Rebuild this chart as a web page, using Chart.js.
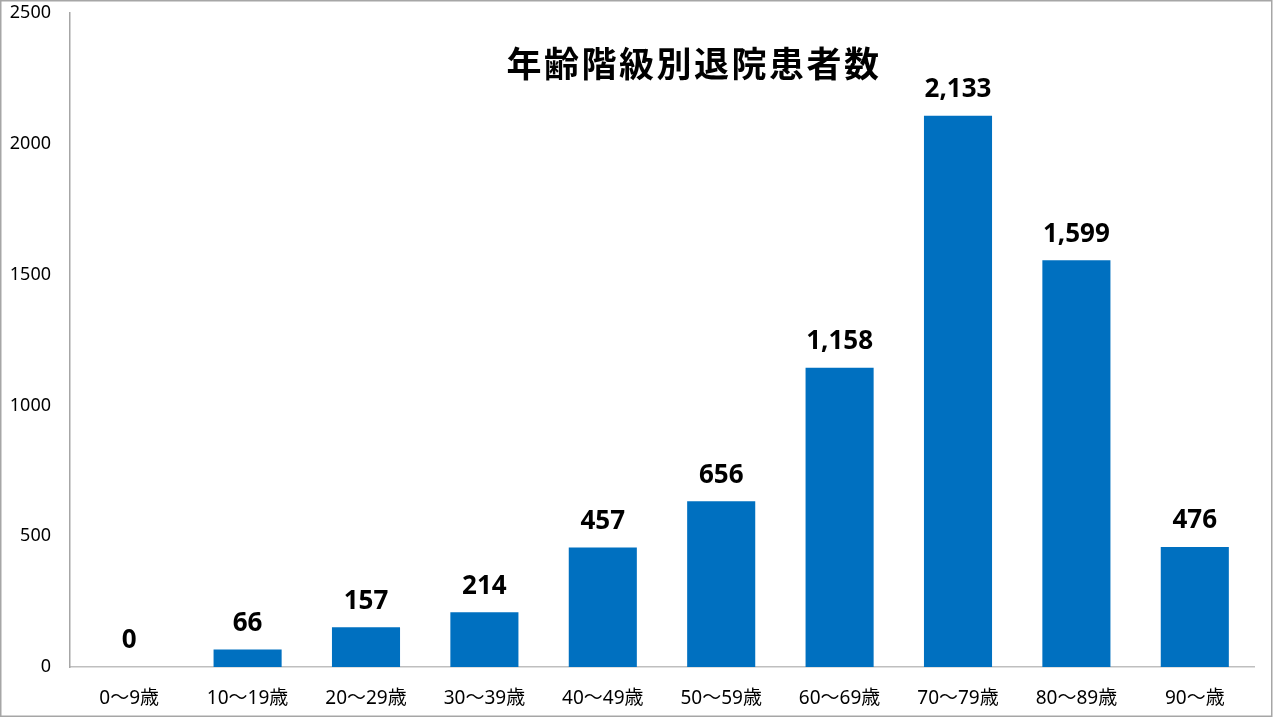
<!DOCTYPE html>
<html>
<head>
<meta charset="utf-8">
<script src="https://cdn.jsdelivr.net/npm/chart.js@4/dist/chart.umd.min.js"></script>
<style>
  html, body { margin: 0; padding: 0; background: #ffffff; }
  #wrap { width: 1275px; height: 718px; position: relative; }
</style>
</head>
<body>
<div id="wrap"><canvas id="c" width="1275" height="718"></canvas></div>
<script>
// ---- data ----
const chartTitle = '年齢階級別退院患者数';
const categories = ['0～9歳', '10～19歳', '20～29歳', '30～39歳', '40～49歳', '50～59歳', '60～69歳', '70～79歳', '80～89歳', '90～歳'];
// bar heights as drawn in the picture
const barValues = [0, 67, 152, 209, 457, 634, 1144, 2107, 1555, 459];
// data labels as printed above the bars
const labelTexts = ['0', '66', '157', '214', '457', '656', '1,158', '2,133', '1,599', '476'];
const yTicks = [0, 500, 1000, 1500, 2000, 2500];

const FONT = "'Noto Sans', 'Noto Sans CJK JP', sans-serif";

const decorPlugin = {
  id: 'decor',
  beforeDraw(chart) {
    const ctx = chart.ctx;
    ctx.save();
    ctx.fillStyle = '#ffffff';
    ctx.fillRect(0, 0, chart.width, chart.height);
    ctx.restore();
  },
  afterDatasetsDraw(chart) {
    const ctx = chart.ctx;
    const meta = chart.getDatasetMeta(0);
    ctx.save();
    ctx.fillStyle = '#000000';
    ctx.font = "bold 26px " + FONT;
    ctx.textAlign = 'center';
    ctx.textBaseline = 'middle';
    meta.data.forEach((bar, i) => {
      ctx.fillText(labelTexts[i], bar.x, bar.y - 26);
    });
    ctx.restore();
  },
  afterDraw(chart) {
    const ctx = chart.ctx;
    ctx.save();
    // title
    ctx.fillStyle = '#000000';
    ctx.font = "bold 35px 'Noto Sans CJK JP', 'Noto Sans', sans-serif";
    ctx.textAlign = 'center';
    ctx.textBaseline = 'middle';
    try { ctx.letterSpacing = '2.5px'; } catch (e) {}
    ctx.fillText(chartTitle, 694, 64);
    try { ctx.letterSpacing = '0px'; } catch (e) {}
    // outer frame
    ctx.strokeStyle = '#a6a6a6';
    ctx.lineWidth = 1.5;
    ctx.strokeRect(0.75, 0.75, 1271, 715.5);
    ctx.restore();
  }
};

new Chart(document.getElementById('c'), {
  type: 'bar',
  data: {
    labels: categories,
    datasets: [{
      data: barValues,
      backgroundColor: '#0070C0',
      borderWidth: 0,
      barPercentage: 1.0,
      categoryPercentage: 0.575
    }]
  },
  options: {
    responsive: false,
    animation: false,
    devicePixelRatio: 1,
    layout: { padding: { left: 0, right: 21, top: 13, bottom: 0 } },
    plugins: {
      legend: { display: false },
      title: { display: false },
      tooltip: { enabled: false }
    },
    scales: {
      x: {
        grid: { display: false, drawTicks: false },
        border: { display: true, color: '#bfbfbf', width: 1.5 },
        ticks: {
          color: '#000000',
          font: { family: FONT, size: 19 },
          padding: 20,
          maxRotation: 0,
          autoSkip: false
        },
        afterFit(scale) { scale.height = 51; scale.paddingLeft = 0; scale.paddingRight = 0; }
      },
      y: {
        min: 0,
        max: 2500,
        afterBuildTicks(scale) { scale.ticks = yTicks.map(v => ({ value: v })); },
        grid: { display: false, drawTicks: false },
        border: { display: true, color: '#a6a6a6', width: 1.5 },
        ticks: {
          color: '#000000',
          font: { family: FONT, size: 18 },
          padding: 19,
          callback: (v) => String(v)
        },
        afterFit(scale) { scale.width = 70; scale.paddingTop = 0; scale.paddingBottom = 0; }
      }
    }
  },
  plugins: [decorPlugin]
});
</script>
</body>
</html>
